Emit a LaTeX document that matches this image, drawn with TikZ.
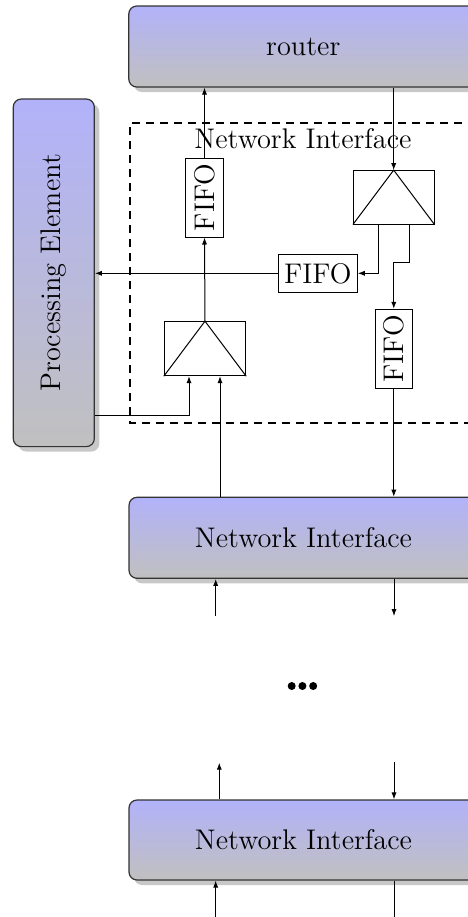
\documentclass[tikz,border=0pt]{standalone}
\usetikzlibrary{shadows,calc,arrows.meta}
\definecolor{boxtop}{RGB}{178,178,250}
\definecolor{boxbot}{RGB}{192,192,192}
\definecolor{shade}{RGB}{200,200,200}
\newcommand{\labelfont}{\fontsize{14.2}{17}\selectfont}
\tikzset{
  unitbox/.style={draw=black!80, line width=0.6pt, rounded corners=4pt,
    top color=boxtop, bottom color=boxbot,
    drop shadow={shadow xshift=2.5pt, shadow yshift=-2.5pt, fill=shade, opacity=1},
    inner sep=0pt, font=\labelfont},
  fifobox/.style={draw, line width=0.5pt, inner sep=0pt, fill=white, font=\labelfont},
  demuxbox/.style={draw, line width=0.5pt, inner sep=0pt, fill=white},
  arr/.style={line width=0.5pt, -{Latex[length=3.5pt,width=2.6pt]}},
  wire/.style={line width=0.5pt},
  niframe/.style={draw, line width=0.9pt, dash pattern=on 4pt off 3pt}
}
\begin{document}
\begin{tikzpicture}[x=0.5pt, y=-0.5pt]
\useasboundingbox (0,0) rectangle (467,917);

% dashed frame of the network interface
\draw[niframe] (490,123) -- (130,123) -- (130,423) -- (490,423);
\node[font=\labelfont, inner sep=0pt] (nilabel) at (303,139) {Network Interface};

% main blocks
\node[unitbox, minimum width=174.5pt, minimum height=40.5pt] (router) at (303.3,46.5) {router};
\node[unitbox, minimum width=40.5pt, minimum height=173.8pt] (pe) at (53.8,272.8) {};
\node[rotate=90, font=\labelfont, inner sep=0pt] (petext) at (pe.center) {Processing Element};
\node[unitbox, minimum width=174.5pt, minimum height=40.5pt] (ni1) at (303.5,537.8) {Network Interface};
\node[unitbox, minimum width=174.5pt, minimum height=40pt] (ni2) at (303.5,840) {Network Interface};

% FIFOs
\node[fifobox, rotate=90, minimum width=39.5pt, minimum height=18.8pt] (fifoL) at (204.5,197.5) {FIFO};
\node[fifobox, minimum width=39.5pt, minimum height=19pt] (fifoM) at (317.8,273.3) {FIFO};
\node[fifobox, rotate=90, minimum width=39.5pt, minimum height=18.8pt] (fifoR) at (393.8,348.8) {FIFO};

% demultiplexer / multiplexer blocks
\node[demuxbox, minimum width=40.3pt, minimum height=26.7pt] (demuxU) at (393.7,197.3) {};
\draw[wire] (demuxU.south west) -- (demuxU.north) -- (demuxU.south east);
\node[demuxbox, minimum width=40.7pt, minimum height=27pt] (demuxL) at (205,348.7) {};
\draw[wire] (demuxL.south west) -- (demuxL.north) -- (demuxL.south east);

% helper points
\coordinate (uOutA) at ($(demuxU.south)+(-15.4,0)$);
\coordinate (uOutB) at ($(demuxU.south)+(15.6,0)$);
\coordinate (lInA) at ($(demuxL.south)+(-16,0)$);
\coordinate (lInB) at ($(demuxL.south)+(15,0)$);
\coordinate (peOut) at (pe.east |- 0,415);
\coordinate (up1) at (215.7,616);
\coordinate (dn1) at (394,616);
\coordinate (up2) at (219.3,762.7);
\coordinate (dn2) at (394,761.7);
\coordinate (up3) at (215.7,917);
\coordinate (dn3) at (394,917);

% connections inside the interface
\draw[arr] (fifoL.east) -- (fifoL.east |- router.south);
\draw[arr] (demuxU.north |- router.south) -- (demuxU.north);
\draw[arr] (uOutA) |- (fifoM.east);
\draw[arr] (uOutB) -- ++(0,38.3) -| (fifoR.east);
\draw[arr] (fifoM.west) -- (fifoM.west -| pe.east);
\draw[arr] (demuxL.north) -- (fifoL.west);
\draw[arr] (peOut) -| (lInA);
\draw[arr] (lInB |- ni1.north) -- (lInB);
\draw[arr] (fifoR.west) -- (fifoR.west |- ni1.north);

% links between the stacked interfaces
\draw[arr] (up1) -- (up1 |- ni1.south);
\draw[arr] (dn1 |- ni1.south) -- (dn1);
\draw[arr] (up2 |- ni2.north) -- (up2);
\draw[arr] (dn2) -- (dn2 |- ni2.north);
\draw[arr] (up3) -- (up3 |- ni2.south);
\draw[wire] (dn3 |- ni2.south) -- (dn3);

% ellipsis
\fill (291.7,686) circle[radius=2pt] (302.4,686) circle[radius=2pt] (313.2,686) circle[radius=2pt];
\end{tikzpicture}
\end{document}
